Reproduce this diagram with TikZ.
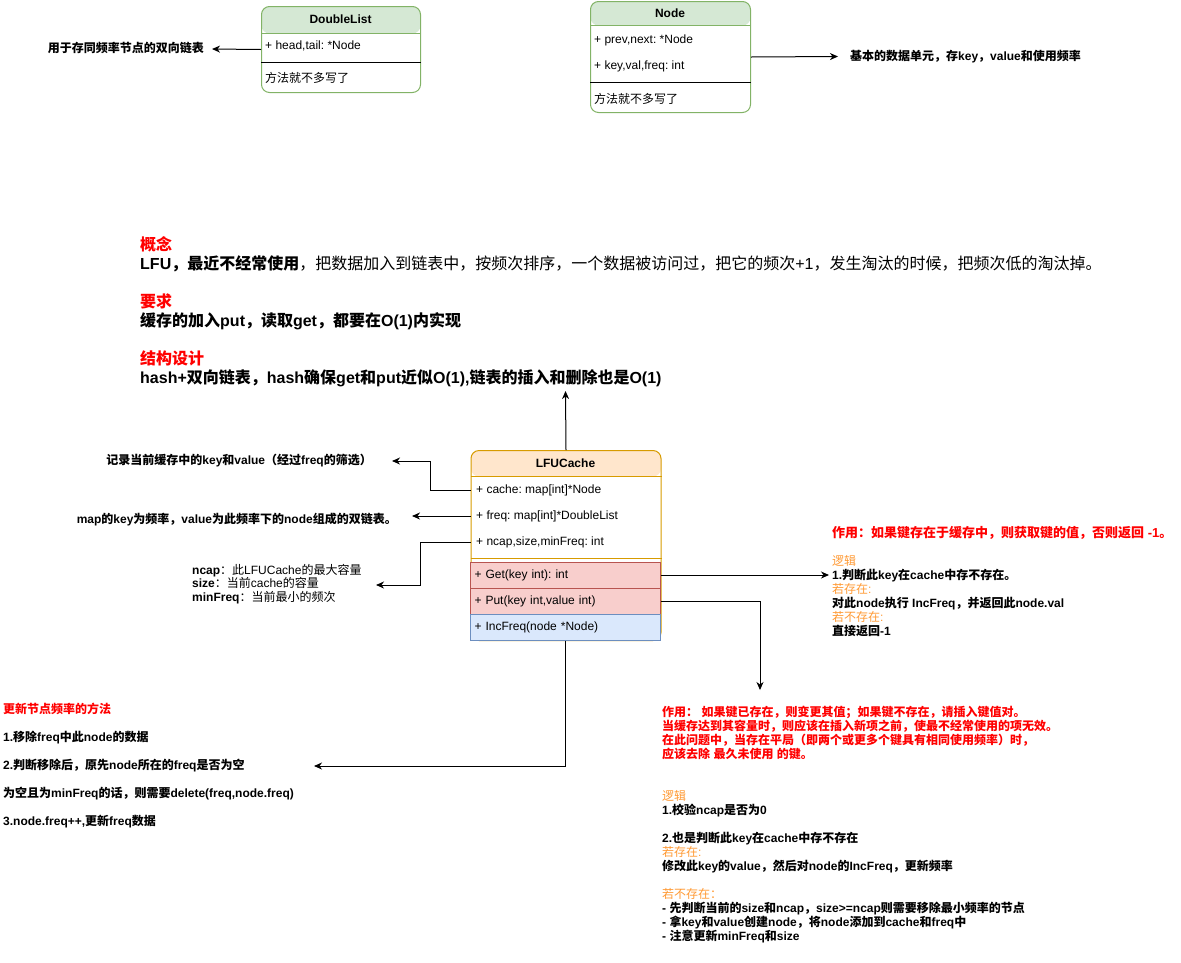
\documentclass[tikz,border=0pt]{standalone}
\usepackage{fontspec}
\setmainfont{Liberation Sans}
\newfontfamily\latinfont{Liberation Sans}
\newfontfamily\cjkfont{Noto Sans CJK SC}
\usetikzlibrary{arrows.meta,positioning}
\definecolor{greenfill}{HTML}{D5E8D4}
\definecolor{greenline}{HTML}{82B366}
\definecolor{orangefill}{HTML}{FFE6CC}
\definecolor{orangeline}{HTML}{D79B00}
\definecolor{redfill}{HTML}{F8CECC}
\definecolor{redline}{HTML}{B85450}
\definecolor{bluefill}{HTML}{DAE8FC}
\definecolor{blueline}{HTML}{6C8EBF}
\definecolor{notered}{HTML}{FF0000}
\definecolor{noteorange}{HTML}{FF9933}

% Chinese characters get the CJK font, the rest Liberation Sans
\XeTeXinterchartokenstate=1
\newXeTeXintercharclass\cjkclass
\newcount\cjkcnt
\newcommand\cjkrange[2]{\cjkcnt=#1\relax
  \loop\XeTeXcharclass\cjkcnt=\cjkclass
  \ifnum\cjkcnt<#2\relax\advance\cjkcnt by 1\repeat}
\cjkrange{"3000}{"303F}
\cjkrange{"4E00}{"9FFF}
\cjkrange{"FF00}{"FFEF}
\XeTeXinterchartoks 0 \cjkclass = {\cjkfont}
\XeTeXinterchartoks 4095 \cjkclass = {\cjkfont}
\XeTeXinterchartoks \cjkclass 0 = {\latinfont}
\XeTeXinterchartoks \cjkclass 4095 = {\latinfont}
\frenchspacing

\newcommand\boxfs{\fontsize{12}{14}\selectfont}
\newcommand\bigfs{\fontsize{16}{19}\selectfont}

\tikzset{
  umlbox/.style={draw=#1, line width=1pt, rounded corners=8pt, anchor=north west, inner sep=0pt},
  hdrfill/.style 2 args={path picture={\fill[#1] (path picture bounding box.north west) rectangle ([yshift=-#2]path picture bounding box.north east);}},
  boxtitle/.style={font=\boxfs\bfseries, inner sep=0pt},
  boxfield/.style={font=\boxfs, anchor=west, inner sep=0pt},
  methodrow/.style 2 args={draw=#2, fill=#1, line width=1pt, text width=182pt, align=left, inner xsep=4pt, inner ysep=0pt, minimum height=26pt, font=\boxfs},
  note/.style={font=\boxfs\bfseries, align=left, inner sep=0pt},
  arr/.style={-{Stealth[length=8pt,width=7pt,inset=2.5pt]}, line width=1pt},
}

\begin{document}
\begin{tikzpicture}[x=1pt,y=-1pt]
  \useasboundingbox (0,0) rectangle (1181,962);

  % DoubleList
  \node[umlbox=greenline, hdrfill={greenfill}{27pt}, minimum width=159pt, minimum height=86pt] (dl) at (261,6) {};
  \draw[greenline, line width=1pt] (dl.west |- 0,33) -- (dl.east |- 0,33);
  \draw[line width=1pt] (dl.west |- 0,62) -- (dl.east |- 0,62);
  \node[boxtitle] (dltitle) at (340.5,19.5) {DoubleList};
  \node[boxfield] (dlfield) at (265,46) {+ head,tail: *Node};
  \node[boxfield] (dlmethod) at (265,78) {方法就不多写了};

  % Node
  \node[umlbox=greenline, hdrfill={greenfill}{24pt}, minimum width=160pt, minimum height=111pt] (nd) at (590,1) {};
  \draw[greenline, line width=1pt] (nd.west |- 0,25) -- (nd.east |- 0,25);
  \draw[line width=1pt] (nd.west |- 0,82) -- (nd.east |- 0,82);
  \node[boxtitle] (ndtitle) at (670,13.5) {Node};
  \node[boxfield] (ndprev) at (594,40) {+ prev,next: *Node};
  \node[boxfield] (ndkey) at (594,66) {+ key,val,freq: int};
  \node[boxfield] (ndmethod) at (594,99) {方法就不多写了};

  % LFUCache
  \node[umlbox=orangeline, hdrfill={orangefill}{26pt}, minimum width=190pt, minimum height=190pt] (lfu) at (470.5,450) {};
  \draw[orangeline, line width=1pt] (lfu.west |- 0,476) -- (lfu.east |- 0,476);
  \draw[orangeline, line width=1pt] (lfu.west |- 0,558) -- (lfu.east |- 0,558);
  \node[boxtitle] (lfutitle) at (565.5,463.5) {LFUCache};
  \node[boxfield] (lfcache) at (476,490) {+ cache: map[int]*Node};
  \node[boxfield] (lffreq) at (476,516) {+ freq: map[int]*DoubleList};
  \node[boxfield] (lfncap) at (476,542) {+ ncap,size,minFreq: int};
  \node[methodrow={redfill}{redline}] (lfget) at (565.5,575) {+ Get(key int): int};
  \node[methodrow={redfill}{redline}] (lfput) at (565.5,601) {+ Put(key int,value int)};
  \node[methodrow={bluefill}{blueline}] (lfinc) at (565.5,627) {+ IncFreq(node *Node)};

  % concept text
  \node[anchor=north west, align=left, inner sep=0pt, font=\bigfs] (concept) at (140,236) {%
    \textcolor{notered}{\bfseries 概念}\\
    \textbf{LFU，最近不经常使用}\cjkfont，把数据加入到链表中，按频次排序，一个数据被访问过，把它的频次+1，发生淘汰的时候，把频次低的淘汰掉。\\[19pt]
    \textcolor{notered}{\bfseries 要求}\\
    \textbf{缓存的加入put，读取get，都要在O(1)内实现}\\[19pt]
    \textcolor{notered}{\bfseries 结构设计}\\
    \textbf{hash+双向链表，hash确保get和put近似O(1),链表的插入和删除也是O(1)}};

  % notes
  \node[note, anchor=east] (dlnote) at (204,48) {用于存同频率节点的双向链表};
  \node[note, anchor=west] (ndnote) at (850,56.5) {基本的数据单元，存key，value和使用频率};
  \node[note, anchor=east] (cachenote) at (372,461) {记录当前缓存中的key和value（经过freq的筛选）};
  \node[note, anchor=east] (freqnote) at (397,520) {map的key为频率，value为此频率下的node组成的双链表。};
  \node[note, anchor=north west, font=\fontsize{12}{13.5}\selectfont] (ncapnote) at (192,564) {%
    \textbf{ncap}：此LFUCache的最大容量\\
    \textbf{size}：当前cache的容量\\
    \textbf{minFreq}：当前最小的频次};
  \node[note, anchor=north west] (getnote) at (832,526) {%
    \textcolor{notered}{\fontsize{13}{14}\selectfont 作用：如果键存在于缓存中，则获取键的值，否则返回 -1。}\\[14pt]
    \textcolor{noteorange}{\mdseries 逻辑}\\
    1.判断此key在cache中存不存在。\\
    \textcolor{noteorange}{\mdseries 若存在:}\\
    对此node执行 IncFreq，并返回此node.val\\
    \textcolor{noteorange}{\mdseries 若不存在:}\\
    直接返回-1};
  \node[note, anchor=north west] (putnote) at (662,706) {%
    \textcolor{notered}{作用： 如果键已存在，则变更其值；如果键不存在，请插入键值对。}\\
    \textcolor{notered}{当缓存达到其容量时，则应该在插入新项之前，使最不经常使用的项无效。}\\
    \textcolor{notered}{在此问题中，当存在平局（即两个或更多个键具有相同使用频率）时，}\\
    \textcolor{notered}{应该去除 最久未使用 的键。}\\[28pt]
    \textcolor{noteorange}{\mdseries 逻辑}\\
    1.校验ncap是否为0\\[14pt]
    2.也是判断此key在cache中存不存在\\
    \textcolor{noteorange}{\mdseries 若存在:}\\
    修改此key的value，然后对node的IncFreq，更新频率\\[14pt]
    \textcolor{noteorange}{\mdseries 若不存在：}\\
    - 先判断当前的size和ncap，size>=ncap则需要移除最小频率的节点\\
    - 拿key和value创建node，将node添加到cache和freq中\\
    - 注意更新minFreq和size};
  \node[note, anchor=north west, font=\fontsize{12}{28}\selectfont\bfseries] (incnote) at (3,703) {%
    \textcolor{notered}{更新节点频率的方法}\\
    1.移除freq中此node的数据\\
    2.判断移除后，原先node所在的freq是否为空\\
    为空且为minFreq的话，则需要delete(freq,node.freq)\\
    3.node.freq++,更新freq数据};

  % arrow ends
  \coordinate (dltip) at (212,49);
  \coordinate (ndtip) at (838,56.5);
  \coordinate (cpttip) at (565.5,391);
  \coordinate (cachetip) at (392,461);
  \coordinate (freqtip) at (412,516);
  \coordinate (ncaptip) at (376,585);
  \coordinate (gettip) at (829,575);
  \coordinate (puttip) at (760,690);
  \coordinate (inctip) at (314,766);

  % connections
  \draw[arr] (dl.west) -- (dltip);
  \draw[arr] (nd.east) -- (ndtip);
  \draw[arr] (lfu.north) -- (cpttip);
  \draw[arr] (lfu.west |- lfcache) -- ++(-40,0) |- (cachetip);
  \draw[arr] (lfu.west |- lffreq) -- (freqtip);
  \draw[arr] (lfu.west |- lfncap) -- ++(-50,0) |- (ncaptip);
  \draw[arr] (lfget.east) -- (gettip);
  \draw[arr] (lfput.east) -| (puttip);
  \draw[arr] (lfinc.south) |- (inctip);
\end{tikzpicture}
\end{document}
